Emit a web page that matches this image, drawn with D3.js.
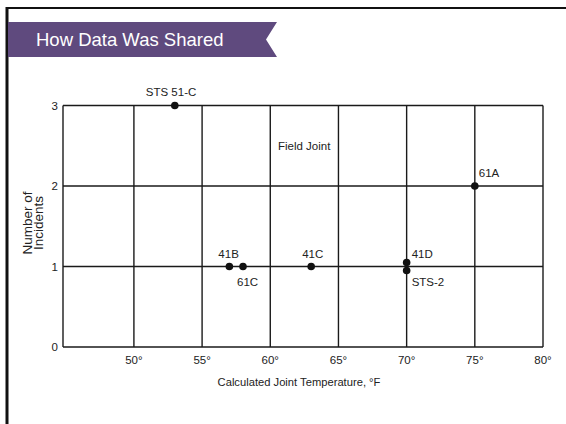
<!DOCTYPE html>
<html lang="en">
<head>
<meta charset="UTF-8">
<title>How Data Was Shared</title>
<script src="https://cdn.jsdelivr.net/npm/d3@7/dist/d3.min.js"></script>
<style>
  body, html { margin: 0; background: #fff; font-family: "Liberation Sans", Arial, sans-serif; }
  svg { display: block; }
</style>
</head>
<body>
<svg width="566" height="424"></svg>
<script>
const flights = ["STS 51-C", "41B", "61C", "41C", "41D", "STS-2", "61A"];
const temps = [53, 57, 58, 63, 70, 70, 75];
const incidents = [3, 1, 1, 1, 1, 1, 2];
const xTicks = [50, 55, 60, 65, 70, 75, 80];
const yTicks = [0, 1, 2, 3];

(function(){
  const svg = d3.select('svg');
  const x = d3.scaleLinear().domain([44.8, 80]).range([63, 543]);
  const y = d3.scaleLinear().domain([0, 3]).range([347, 105.5]);

  // frame
  svg.append('line').attr('x1', 7).attr('x2', 566).attr('y1', 8).attr('y2', 8)
    .attr('stroke', '#111').attr('stroke-width', 2);
  svg.append('line').attr('x1', 7).attr('x2', 7).attr('y1', 7).attr('y2', 424)
    .attr('stroke', '#111').attr('stroke-width', 3);

  // banner
  svg.append('path')
    .attr('d', 'M8,22 L277,22 L266,39.5 L277,57 L8,57 Z')
    .attr('fill', '#5f4a7e');
  svg.append('text').attr('x', 36).attr('y', 46)
    .attr('fill', '#fff').style('font-size', '18.5px').text('How Data Was Shared');

  const g = svg.append('g').attr('stroke', '#1a1a1a').attr('stroke-width', 1.4);
  g.selectAll('.v').data([x.domain()[0]].concat(xTicks)).enter().append('line')
    .attr('x1', d => x(d)).attr('x2', d => x(d))
    .attr('y1', y(3)).attr('y2', y(0));
  g.selectAll('.h').data(yTicks).enter().append('line')
    .attr('x1', x.range()[0]).attr('x2', x.range()[1])
    .attr('y1', d => y(d)).attr('y2', d => y(d));

  const txt = svg.append('g').attr('fill', '#222').style('font-size', '11.5px');
  txt.selectAll('.xt').data(xTicks).enter().append('text')
    .attr('x', d => x(d)).attr('y', 364).attr('text-anchor', 'middle')
    .text(d => d + '°');
  txt.selectAll('.yt').data(yTicks).enter().append('text')
    .attr('x', 58).attr('y', d => y(d) + 4).attr('text-anchor', 'end')
    .text(d => d);
  txt.append('text').attr('x', 299).attr('y', 386).attr('text-anchor', 'middle')
    .style('font-size', '11.2px').text('Calculated Joint Temperature, °F');
  txt.append('text').attr('transform', 'translate(32,223) rotate(-90)')
    .attr('text-anchor', 'middle').style('font-size', '13.5px').text('Number of');
  txt.append('text').attr('transform', 'translate(43,223) rotate(-90)')
    .attr('text-anchor', 'middle').style('font-size', '13.5px').text('Incidents');
  txt.append('text').attr('x', 278).attr('y', 150).text('Field Joint');

  // points: 41D and STS-2 sit stacked at 70°
  const dy = [0, 0, 0, 0, -4, 4, 0];
  const pts = flights.map((f, i) => ({name: f, t: temps[i], n: incidents[i], dy: dy[i]}));
  svg.append('g').selectAll('circle').data(pts).enter().append('circle')
    .attr('cx', d => x(d.t)).attr('cy', d => y(d.n) + d.dy).attr('r', 3.8)
    .attr('fill', '#111');

  const lab = {
    'STS 51-C': [-29, -10], '41B': [-11, -9], '61C': [-6, 19], '41C': [-9, -9],
    '41D': [5, -9], 'STS-2': [5, 19], '61A': [4, -9]
  };
  txt.selectAll('.pl').data(pts).enter().append('text')
    .attr('x', d => x(d.t) + lab[d.name][0]).attr('y', d => y(d.n) + lab[d.name][1])
    .text(d => d.name);
})();
</script>
</body>
</html>
